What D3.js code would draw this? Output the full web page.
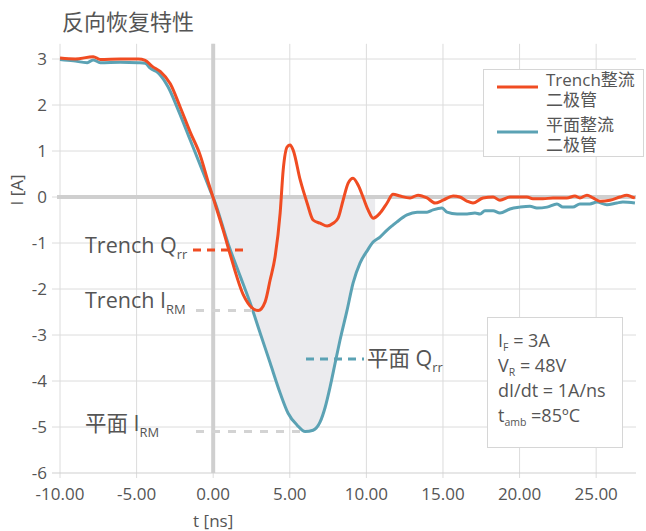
<!DOCTYPE html>
<html>
<head>
<meta charset="utf-8">
<script src="https://cdn.jsdelivr.net/npm/d3@7"></script>
<style>
  html, body { margin: 0; padding: 0; background: #fff; }
  svg { display: block; }
  text { font-family: "Open Sans", "Noto Sans CJK SC", sans-serif; fill: #555; }
</style>
</head>
<body>
<svg id="chart" width="646" height="531"></svg>
<script>
// Reverse-recovery current of a trench rectifier and a planar rectifier
const title = "反向恢复特性";
const seriesNames = ["Trench整流\n二极管", "平面整流\n二极管"];
const seriesColors = ["#f04c22", "#5ba2b4"];

// Trench rectifier: time [ns] and current [A]
const trenchT = [-10, -9.0, -7.83, -7.37, -6.07, -4.89, -4.44, -3.98, -3.46, -2.8, -2.15, -1.5, -0.85, -0.33, 0,
  0.65, 1.11, 1.96, 2.54, 2.94, 3.39, 3.72, 4.04, 4.37, 4.57, 4.83, 5.02, 5.22, 5.68, 6.13, 6.52, 6.98, 7.44,
  7.83, 8.15, 8.48, 8.81, 9.13, 9.46, 9.78, 10.11, 10.44, 10.89, 11.35, 11.74, 12.2, 12.85, 13.37, 13.96, 14.48,
  15.0, 15.66, 16.1, 16.57, 16.96, 17.61, 18.27, 18.72, 19.37, 20.03, 20.48, 20.87, 21.53, 22.18, 23.09, 23.61,
  23.94, 24.4, 24.79, 25.25, 25.9, 26.55, 27.0, 27.33, 27.53];
const trenchI = [3.02, 3.0, 3.05, 2.99, 3.0, 3.0, 2.97, 2.84, 2.73, 2.46, 1.95, 1.41, 0.91, 0.33, -0.02,
  -0.72, -1.25, -2.12, -2.41, -2.47, -2.28, -1.8, -1.3, -0.35, 0.59, 1.09, 1.13, 1.02, 0.37, -0.13, -0.5, -0.57, -0.63,
  -0.57, -0.46, -0.07, 0.3, 0.41, 0.26, 0.0, -0.28, -0.46, -0.35, -0.13, 0.06, 0.02, -0.02, 0.04, -0.02, -0.13,
  -0.07, 0.02, 0.0, -0.09, -0.13, -0.02, 0.0, -0.07, 0.0, 0.0, 0.0, -0.04, -0.04, -0.02, -0.02, 0.02,
  -0.02, 0.04, -0.02, -0.09, -0.07, 0.0, 0.04, 0.0, -0.02];

// Planar rectifier: time [ns] and current [A]
const planarT = [-10, -9.13, -8.22, -7.83, -7.37, -6.07, -4.89, -4.44, -4.11, -3.59, -2.94, -2.28, -1.5, -0.72, -0.2,
  0.07, 0.98, 1.76, 2.41, 3.07, 3.72, 4.37, 4.89, 5.48, 6.0, 6.52, 6.98, 7.31, 7.63, 7.96, 8.28, 8.74, 9.13,
  9.59, 10.05, 10.44, 10.89, 11.35, 11.74, 12.0, 12.65, 13.31, 13.96, 14.35, 14.94, 15.26, 15.92, 16.57, 17.09,
  17.42, 17.74, 18.27, 18.72, 19.37, 20.03, 20.68, 21.13, 21.79, 22.44, 22.83, 23.48, 23.94, 24.59, 25.05,
  25.7, 26.35, 26.74, 27.53];
const planarI = [2.99, 2.96, 2.92, 2.98, 2.92, 2.93, 2.92, 2.91, 2.8, 2.7, 2.39, 1.89, 1.24, 0.59, 0.15,
  -0.07, -1.02, -1.72, -2.3, -2.96, -3.61, -4.26, -4.7, -4.96, -5.1, -5.07, -4.89, -4.57, -4.13, -3.61, -3.11, -2.46, -1.87,
  -1.43, -1.17, -0.98, -0.87, -0.72, -0.61, -0.54, -0.39, -0.33, -0.33, -0.28, -0.24, -0.33, -0.37, -0.37, -0.35,
  -0.37, -0.3, -0.3, -0.35, -0.26, -0.22, -0.2, -0.24, -0.22, -0.15, -0.22, -0.22, -0.15, -0.15, -0.11,
  -0.17, -0.13, -0.11, -0.13];

// Axis ticks
const xTicks = [-10, -5, 0, 5, 10, 15, 20, 25];
const yTicks = [3, 2, 1, 0, -1, -2, -3, -4, -5, -6];

// Recovery-charge window [ns] and Qrr marker levels [A]
const qrrWindow = [0, 10.57];
const qrrLevels = [-1.15, -3.52];

// Test conditions
const conditions = [
  { main: "I", sub: "F", rest: " = 3A" },
  { main: "V", sub: "R", rest: " = 48V" },
  { main: "dI/dt = 1A/ns", sub: "", rest: "" },
  { main: "t", sub: "amb", rest: " =85ºC" }
];

const svg = d3.select("#chart");
const x = d3.scaleLinear().domain([-10, 27.6]).range([60, 636]);
const y = d3.scaleLinear().domain([-6, 3]).range([473, 59]);
const yTop = y(3.33);

const trench = trenchT.map((t, i) => ({ t, v: trenchI[i] }));
const planar = planarT.map((t, i) => ({ t, v: planarI[i] }));

// Grid
const grid = svg.append("g");
grid.selectAll(".gx").data(xTicks).join("line")
  .attr("x1", d => x(d)).attr("x2", d => x(d))
  .attr("y1", yTop).attr("y2", y(-6) + 5)
  .attr("stroke", "#dcdcdc").attr("stroke-width", 1);
grid.selectAll(".gy").data(yTicks).join("line")
  .attr("x1", 52).attr("x2", 636)
  .attr("y1", d => y(d)).attr("y2", d => y(d))
  .attr("stroke", d => d === -6 ? "#cfcfcf" : "#dcdcdc").attr("stroke-width", 1);

// Shaded recovery charge under the planar curve
svg.append("clipPath").attr("id", "qrrClip").append("rect")
  .attr("x", x(qrrWindow[0])).attr("width", x(qrrWindow[1]) - x(qrrWindow[0]))
  .attr("y", y(0)).attr("height", y(-6) - y(0));
svg.append("path")
  .datum(planar)
  .attr("clip-path", "url(#qrrClip)")
  .attr("fill", "#ebebee")
  .attr("d", d3.area().curve(d3.curveMonotoneX)
    .x(d => x(d.t)).y0(y(0)).y1(d => y(Math.min(0, d.v)))(planar));

// Zero lines
svg.append("line").attr("x1", x(0)).attr("x2", x(0)).attr("y1", yTop).attr("y2", y(-6))
  .attr("stroke", "#cfcfcf").attr("stroke-width", 4);
svg.append("line").attr("x1", 57).attr("x2", 636).attr("y1", y(0)).attr("y2", y(0))
  .attr("stroke", "#cfcfcf").attr("stroke-width", 4);

// Tick labels
svg.append("g").selectAll("text").data(xTicks).join("text")
  .attr("x", d => x(d)).attr("y", 500).attr("text-anchor", "middle")
  .attr("font-size", 17).text(d => d.toFixed(2));
svg.append("g").selectAll("text").data(yTicks).join("text")
  .attr("x", 47).attr("y", d => y(d) + 6).attr("text-anchor", "end")
  .attr("font-size", 17).text(d => d);

// Axis titles
svg.append("text").attr("x", x(0)).attr("y", 527).attr("text-anchor", "middle")
  .attr("font-size", 17).text("t [ns]");
svg.append("text").attr("transform", `translate(23,${y(0) - 7}) rotate(-90)`)
  .attr("text-anchor", "middle").attr("font-size", 17).text("I [A]");

// Title
svg.append("text").attr("x", 62).attr("y", 30).attr("font-size", 22).text(title);

// Marker lines for Irm and Qrr
const trenchMin = d3.min(trenchI), planarMin = d3.min(planarI);
const trenchMinT = trenchT[trenchI.indexOf(trenchMin)];
const planarMinT = planarT[planarI.indexOf(planarMin)];
const markers = [
  { x1: 193, x2: x(2.1), v: qrrLevels[0], color: seriesColors[0], dash: "8,6" },
  { x1: 196, x2: x(trenchMinT), v: trenchMin, color: "#d3d3d3", dash: "8,8" },
  { x1: 306, x2: 364, v: qrrLevels[1], color: seriesColors[1], dash: "8,6" },
  { x1: 196, x2: x(planarMinT), v: planarMin, color: "#d3d3d3", dash: "8,8" }
];

// Series lines
const line = d3.line().curve(d3.curveMonotoneX).x(d => x(d.t)).y(d => y(d.v));
svg.append("path").datum(planar).attr("d", line).attr("fill", "none")
  .attr("stroke", seriesColors[1]).attr("stroke-width", 3).attr("stroke-linejoin", "round");
svg.append("path").datum(trench).attr("d", line).attr("fill", "none")
  .attr("stroke", seriesColors[0]).attr("stroke-width", 3).attr("stroke-linejoin", "round");

svg.append("g").selectAll("line").data(markers).join("line")
  .attr("x1", d => d.x1).attr("x2", d => d.x2)
  .attr("y1", d => y(d.v)).attr("y2", d => y(d.v))
  .attr("stroke", d => d.color).attr("stroke-width", 3)
  .attr("stroke-dasharray", d => d.dash);

// Marker labels with subscripts
function subLabel(xp, yp, main, sub, size) {
  const t = svg.append("text").attr("x", xp).attr("y", yp).attr("font-size", size);
  t.append("tspan").text(main);
  t.append("tspan").attr("font-size", size * 0.6).attr("dy", size * 0.3).text(sub);
}
subLabel(85, y(qrrLevels[0]) + 3, "Trench Q", "rr", 21.5);
subLabel(85, y(trenchMin) - 3, "Trench I", "RM", 21.5);
subLabel(367, y(qrrLevels[1]) + 7, "平面 Q", "rr", 21.5);
subLabel(85, y(planarMin) - 1, "平面 I", "RM", 21.5);

// Legend: each entry's two lines share one text element
const lg = svg.append("g");
lg.append("rect").attr("x", 483.5).attr("y", 69.5).attr("width", 160).attr("height", 87)
  .attr("fill", "#fff").attr("stroke", "#d6d6d6");
seriesNames.forEach((name, i) => {
  const yy = 87 + i * 45;
  lg.append("line").attr("x1", 497).attr("x2", 538).attr("y1", yy).attr("y2", yy)
    .attr("stroke", seriesColors[i]).attr("stroke-width", 3);
  const t = lg.append("text").attr("x", 546).attr("y", yy - 1).attr("font-size", 17);
  name.split("\n").forEach((part, j) => {
    t.append("tspan").attr("x", 546).attr("dy", j ? 20 : 0).text(part);
  });
});

// Test-condition box, drawn as one multi-line text
const cb = svg.append("g");
cb.append("rect").attr("x", 487.5).attr("y", 317.5).attr("width", 135).attr("height", 130)
  .attr("fill", "#fff").attr("stroke", "#d6d6d6");
const ct = cb.append("text").attr("x", 498).attr("y", 347).attr("font-size", 18);
let shift = 0;
conditions.forEach((c, i) => {
  ct.append("tspan").attr("x", 498).attr("dy", (i ? 25 : 0) - shift).text(c.main);
  shift = 0;
  if (c.sub) { ct.append("tspan").attr("font-size", 10.5).attr("dy", 4).text(c.sub); shift = 4; }
  if (c.rest) { ct.append("tspan").attr("dy", -shift).text(c.rest); shift = 0; }
});
</script>
</body>
</html>
